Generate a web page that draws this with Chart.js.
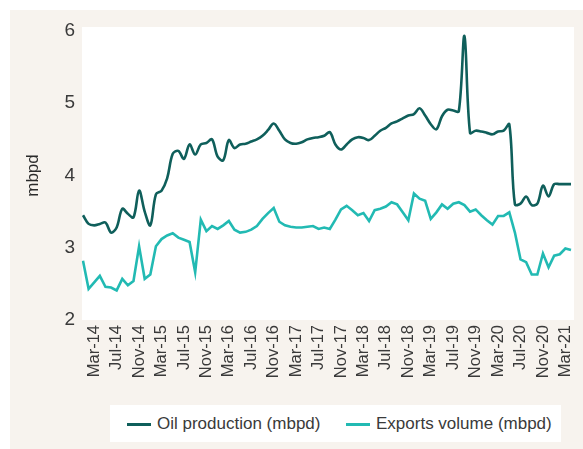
<!DOCTYPE html>
<html>
<head>
<meta charset="utf-8">
<script src="https://cdn.jsdelivr.net/npm/chart.js@4.4.1/dist/chart.umd.min.js"></script>
<style>
  html, body { margin: 0; padding: 0; background: #ffffff; }
  #wrap { position: relative; width: 583px; height: 449px; }
  #panel { position: absolute; left: 10px; top: 10px; width: 573px; height: 439px; background: #f7f3ee; }
  #chart { position: absolute; left: 0; top: 0; }
  #legend {
    position: absolute; left: 110px; top: 405px; width: 451px; height: 37px;
    background: #ffffff; font-family: 'Liberation Sans', Arial, sans-serif;
    font-size: 17px; color: #3a3a3a;
  }
  .item { display: flex; align-items: center; position: absolute; top: 9px; white-space: nowrap; }
  .swatch { width: 24px; height: 3px; margin-right: 6px; }
</style>
</head>
<body>
<div id="wrap">
  <div id="panel"></div>
  <canvas id="chart" width="583" height="449"></canvas>
  <div id="legend"></div>
</div>
<script>
// monthly series, Jan-14 .. Apr-21
const monthNames = ['Jan', 'Feb', 'Mar', 'Apr', 'May', 'Jun', 'Jul', 'Aug', 'Sep', 'Oct', 'Nov', 'Dec'];
const years = ['14', '15', '16', '17', '18', '19', '20', '21'];

const oilProduction = [
  3.45, 3.33, 3.31, 3.33, 3.35, 3.21, 3.28, 3.54, 3.47, 3.42, 3.79, 3.50,
  3.31, 3.74, 3.79, 3.96, 4.30, 4.34, 4.23, 4.43, 4.29, 4.43, 4.45, 4.50,
  4.26, 4.21, 4.49, 4.38, 4.43, 4.44, 4.47, 4.50, 4.55, 4.63, 4.72, 4.62,
  4.50, 4.45, 4.44, 4.46, 4.50, 4.52, 4.53, 4.55, 4.60, 4.43, 4.36, 4.43,
  4.50, 4.53, 4.52, 4.49, 4.55, 4.62, 4.66, 4.72, 4.75, 4.79, 4.83, 4.85,
  4.93, 4.83, 4.71, 4.64, 4.82, 4.91, 4.90, 4.89, 5.93, 4.59, 4.62, 4.61,
  4.59, 4.57, 4.61, 4.62, 4.71, 3.60, 3.61, 3.71, 3.59, 3.61, 3.86, 3.71,
  3.88, 3.88, 3.88, 3.88
];

const exportsVolume = [
  2.82, 2.43, 2.52, 2.61, 2.46, 2.45, 2.41, 2.57, 2.48, 2.54, 3.02, 2.57,
  2.63, 3.02, 3.12, 3.17, 3.20, 3.14, 3.11, 3.08, 2.66, 3.39, 3.23, 3.30,
  3.26, 3.31, 3.37, 3.25, 3.21, 3.22, 3.25, 3.30, 3.40, 3.48, 3.55, 3.36,
  3.31, 3.29, 3.28, 3.28, 3.29, 3.30, 3.26, 3.28, 3.26, 3.39, 3.53, 3.58,
  3.52, 3.45, 3.48, 3.37, 3.52, 3.54, 3.57, 3.63, 3.60, 3.49, 3.38, 3.75,
  3.68, 3.65, 3.40, 3.49, 3.60, 3.54, 3.61, 3.63, 3.59, 3.50, 3.53, 3.45,
  3.38, 3.32, 3.44, 3.44, 3.49, 3.21, 2.84, 2.80, 2.63, 2.63, 2.92, 2.73,
  2.89, 2.91, 2.99, 2.97
];

const yTicks = [2, 3, 4, 5, 6];

const seriesNames = ['Oil production (mbpd)', 'Exports volume (mbpd)'];
const seriesColors = ['#0f5f5b', '#22bab3'];

// build the month labels
const labels = [];
years.forEach(function(y) {
    monthNames.forEach(function(m) {
        if (labels.length < oilProduction.length) labels.push(m + '-' + y);
    });
});

const fontFamily = "'Liberation Sans', Arial, sans-serif";

// white plot background, a little wider than the line area
const plotBackground = {
    id: 'plotBackground',
    beforeDraw: function(chart) {
        const a = chart.chartArea;
        const ctx = chart.ctx;
        ctx.save();
        ctx.fillStyle = '#ffffff';
        ctx.fillRect(a.left - 1, a.top - 4, a.right - a.left + 4, a.bottom - a.top + 4);
        ctx.restore();
    }
};

new Chart(document.getElementById('chart'), {
    type: 'line',
    data: {
        labels: labels,
        datasets: [
            {
                label: seriesNames[0],
                data: oilProduction,
                borderColor: seriesColors[0],
                backgroundColor: seriesColors[0],
                borderWidth: 2.6,
                tension: 0.35,
                pointRadius: 0,
                fill: false
            },
            {
                label: seriesNames[1],
                data: exportsVolume,
                borderColor: seriesColors[1],
                backgroundColor: seriesColors[1],
                borderWidth: 2.6,
                tension: 0,
                pointRadius: 0,
                fill: false
            }
        ]
    },
    options: {
        responsive: false,
        animation: false,
        layout: { padding: { left: 0, right: 12, top: 31, bottom: 0 } },
        plugins: {
            legend: { display: false },
            tooltip: { enabled: false }
        },
        scales: {
            x: {
                grid: { display: false, drawTicks: false },
                border: { display: false },
                afterFit: function(scale) {
                    scale.height = 129;
                    scale.paddingLeft = 0;
                    scale.paddingRight = 0;
                },
                ticks: {
                    autoSkip: false,
                    minRotation: 90,
                    maxRotation: 90,
                    padding: 5,
                    color: '#3a3a3a',
                    font: { family: fontFamily, size: 16.5 },
                    callback: function(value, index) {
                        return (index - 2) % 4 === 0 ? labels[index] : '';
                    }
                }
            },
            y: {
                min: yTicks[0],
                max: yTicks[yTicks.length - 1],
                afterFit: function(scale) {
                    scale.width = 83;
                    scale.paddingTop = 0;
                    scale.paddingBottom = 0;
                },
                afterBuildTicks: function(scale) {
                    scale.ticks = yTicks.map(function(v) { return { value: v }; });
                },
                grid: { display: false, drawTicks: false },
                border: { display: false },
                ticks: {
                    padding: 8,
                    color: '#3a3a3a',
                    font: { family: fontFamily, size: 19 }
                },
                title: {
                    display: true,
                    text: 'mbpd',
                    color: '#2a2a2a',
                    padding: { top: 23, bottom: 0 },
                    font: { family: fontFamily, size: 17 }
                }
            }
        }
    },
    plugins: [plotBackground]
});

// legend drawn as html text in a white box
const legendEl = document.getElementById('legend');
const legendLeft = [17, 236];
seriesNames.forEach(function(name, i) {
    const item = document.createElement('div');
    item.className = 'item';
    item.style.left = legendLeft[i] + 'px';
    const sw = document.createElement('span');
    sw.className = 'swatch';
    sw.style.background = seriesColors[i];
    const tx = document.createElement('span');
    tx.textContent = name;
    item.appendChild(sw);
    item.appendChild(tx);
    legendEl.appendChild(item);
});
</script>
</body>
</html>
